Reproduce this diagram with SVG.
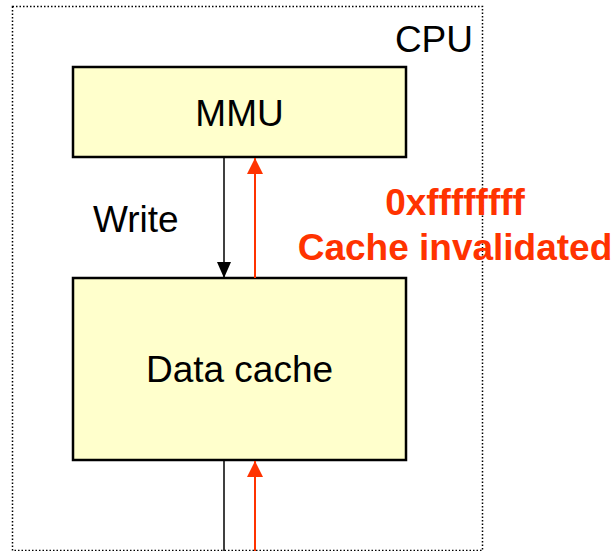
<svg xmlns="http://www.w3.org/2000/svg" width="611" height="551" viewBox="0 0 611 551">
<defs>
<style>
.box{fill:#FFFFCC;stroke:#000;stroke-width:2.5}
.t{font-family:"Liberation Sans",Arial,sans-serif;font-size:37px;fill:#000}
.r{font-family:"Liberation Sans",Arial,sans-serif;font-size:37px;font-weight:bold;fill:#FF3300}
.bl{stroke:#000;stroke-width:1.5;fill:none}
.rl{stroke:#FF3300;stroke-width:2;fill:none}
</style>
<marker id="ab" viewBox="0 0 16 14" refX="16" refY="7" markerWidth="16" markerHeight="14" markerUnits="userSpaceOnUse" orient="auto"><path d="M0,0 L16,7 L0,14 Z" fill="#000"/></marker>
<marker id="ar" viewBox="0 0 16 16" refX="16" refY="8" markerWidth="16" markerHeight="16" markerUnits="userSpaceOnUse" orient="auto"><path d="M0,0 L16,8 L0,16 Z" fill="#FF3300"/></marker>
</defs>
<g id="cpu">
<rect x="12.5" y="6.5" width="470" height="544" fill="none" stroke="#000" stroke-width="1.5" stroke-dasharray="1.5 2"/>
<text class="t" x="473" y="52" text-anchor="end">CPU</text>
</g>
<g id="mmu">
<rect class="box" x="73" y="67" width="333" height="90"/>
<text class="t" x="239.5" y="126" text-anchor="middle">MMU</text>
</g>
<g id="datacache">
<rect class="box" x="73" y="278" width="333" height="182"/>
<text class="t" x="239.5" y="382" text-anchor="middle">Data cache</text>
</g>
<g id="connectors">
<line class="bl" x1="224" y1="158" x2="224" y2="278" marker-end="url(#ab)"/>
<line class="rl" x1="255" y1="278" x2="255" y2="158" marker-end="url(#ar)"/>
<line class="bl" x1="224" y1="461" x2="224" y2="551"/>
<line class="rl" x1="255" y1="551" x2="255" y2="461" marker-end="url(#ar)"/>
</g>
<g id="labels">
<text class="t" x="93" y="232">Write</text>
<text class="r" x="455" y="215" text-anchor="middle">0xffffffff</text>
<text class="r" x="455" y="260" text-anchor="middle">Cache invalidated</text>
</g>
</svg>
